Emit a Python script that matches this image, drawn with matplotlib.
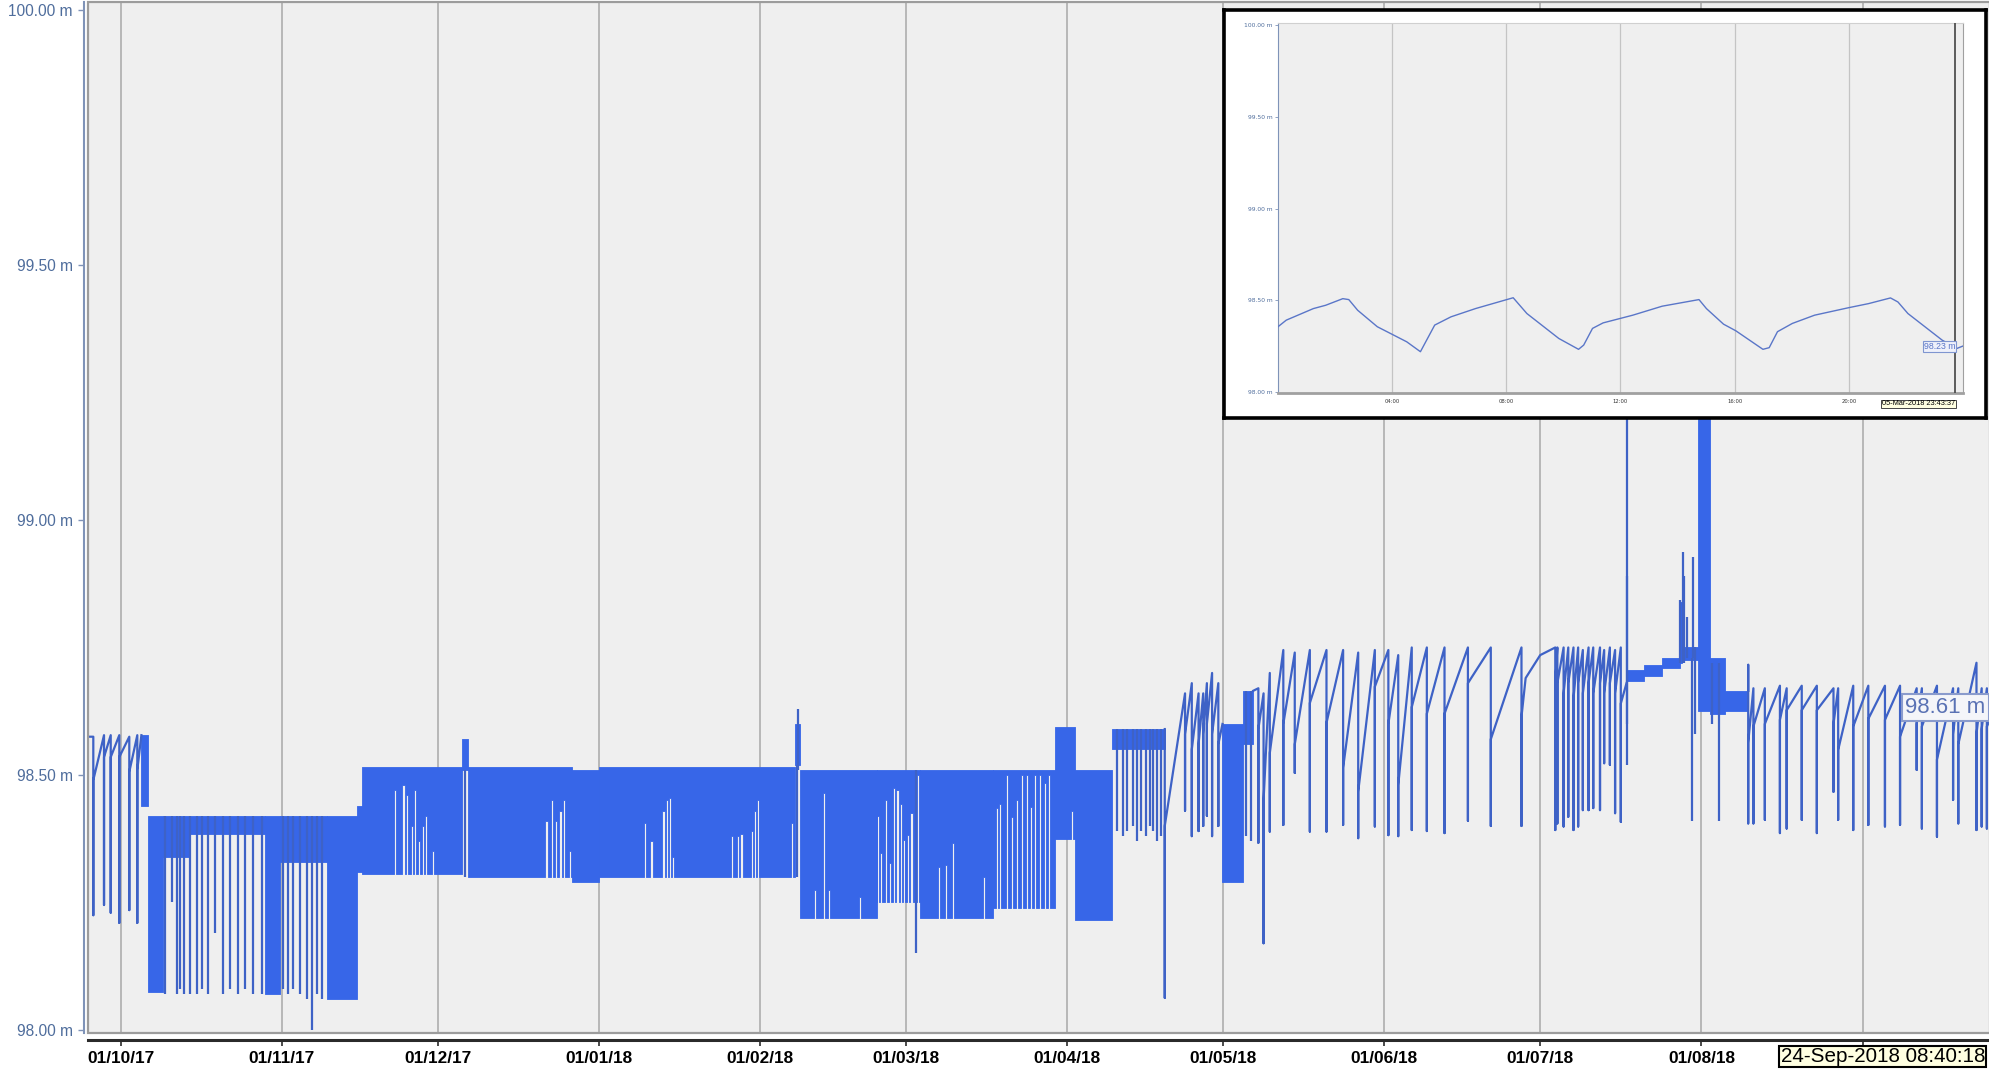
import numpy as np
import pandas as pd
import matplotlib
matplotlib.use("Agg")
import matplotlib.pyplot as plt
import matplotlib.dates as mdates
from matplotlib.patches import Rectangle
from matplotlib.ticker import FuncFormatter

# time axis of the main chart: days counted from 01/10/17
T0 = mdates.date2num(pd.Timestamp("2017-10-01"))
X_RANGE = (-6.27, 359.5)          # 24-Sep-2017 .. 24-Sep-2018
Y_TICKS = [98.0, 98.5, 99.0, 99.5, 100.0]
CURSOR_TIME = "24-Sep-2018 08:40:18"

# dense pumping bands (days, top level, bottom level)
BLOCK_START = [4.0, 5.35, 8.1, 13.4, 27.8, 30.7, 39.6, 45.5, 46.5, 65.6, 66.9, 86.8, 92.0,
               129.7, 130.6, 145.4, 153.7, 167.8, 179.6, 183.5, 190.7, 211.9, 215.8,
               289.7, 293.0, 296.5, 299.9, 300.3, 303.4, 305.7, 308.5]
BLOCK_END = [5.35, 8.1, 13.4, 27.8, 30.7, 39.6, 45.5, 46.5, 65.6, 66.9, 86.8, 92.0, 129.7,
             130.6, 145.4, 153.7, 167.8, 179.6, 183.5, 190.7, 200.8, 215.8, 217.8,
             293.0, 296.5, 299.9, 300.3, 303.4, 305.7, 308.5, 313.0]
BLOCK_TOP = [98.578, 98.42, 98.42, 98.42, 98.42, 98.42, 98.42, 98.44, 98.515, 98.57, 98.515,
             98.51, 98.515, 98.60, 98.51, 98.51, 98.51, 98.51, 98.595, 98.51, 98.59, 98.60,
             98.665, 98.705, 98.715, 98.73, 98.84, 98.75, 99.45, 98.73, 98.665]
BLOCK_BOTTOM = [98.44, 98.075, 98.34, 98.385, 98.07, 98.33, 98.06, 98.31, 98.305, 98.51, 98.30,
                98.29, 98.30, 98.52, 98.22, 98.25, 98.22, 98.24, 98.375, 98.216, 98.55, 98.29,
                98.56, 98.685, 98.695, 98.71, 98.72, 98.725, 98.625, 98.62, 98.625]

# short spells without pumping inside the bands (day, lowest level reached)
GAP_DAY = [52.8, 54.4, 55.1, 56.0, 56.6, 57.3, 58.1, 58.8, 60.1,
           81.9, 83.0, 83.8, 84.6, 85.3, 86.4,
           100.8, 102.1, 104.4, 105.0, 105.7, 106.3,
           117.5, 118.8, 119.4, 121.4, 122.0, 122.6, 129.1,
           133.5, 135.3, 136.3, 142.2, 145.7, 146.3, 147.2, 148.0, 148.7, 149.4, 150.1,
           150.7, 151.5, 152.1, 153.4, 157.4, 158.7, 160.0, 166.0,
           168.5, 169.2, 170.4, 171.4, 172.4, 173.3, 174.3, 175.0, 175.8, 176.8, 177.8,
           178.6, 182.9]
GAP_LEVEL = [98.47, 98.48, 98.46, 98.40, 98.47, 98.37, 98.40, 98.42, 98.35,
             98.41, 98.45, 98.41, 98.43, 98.45, 98.35,
             98.405, 98.37, 98.43, 98.45, 98.455, 98.34,
             98.38, 98.38, 98.385, 98.39, 98.43, 98.45, 98.405,
             98.275, 98.465, 98.275, 98.26, 98.42, 98.347, 98.451, 98.327, 98.474, 98.47,
             98.444, 98.373, 98.382, 98.425, 98.50, 98.32, 98.323, 98.366, 98.30,
             98.435, 98.444, 98.50, 98.418, 98.451, 98.50, 98.50, 98.438, 98.50, 98.50,
             98.484, 98.50, 98.43]

# single drawdowns / spikes (day, low, high)
DIP_DAY = [8.54, 9.83, 10.79, 11.42, 12.19, 13.35, 14.63, 15.6, 16.87, 18.15, 19.75, 21.04,
           22.65, 23.92, 25.52, 27.13, 31.29, 32.25, 33.21, 34.5, 35.79, 36.75, 37.71, 38.67,
           66.3, 130.0, 130.3, 152.9,
           191.7, 192.7, 193.6, 194.6, 195.4, 196.2, 197.2, 198.0, 198.6, 199.4, 200.0,
           216.5, 217.4, 289.6, 289.7,
           299.9, 300.4, 300.6, 301.2, 302.2, 302.4, 302.7, 306.0, 307.3]
DIP_LOW = [98.07, 98.25, 98.07, 98.08, 98.07, 98.07, 98.07, 98.08, 98.07, 98.19, 98.07, 98.08,
           98.07, 98.08, 98.07, 98.07, 98.08, 98.07, 98.08, 98.07, 98.06, 98.0, 98.07, 98.06,
           98.30, 98.30, 98.51, 98.151,
           98.39, 98.38, 98.39, 98.40, 98.37, 98.39, 98.38, 98.40, 98.39, 98.37, 98.38,
           98.38, 98.37, 98.52, 98.60,
           98.72, 98.72, 98.72, 98.73, 98.41, 98.73, 98.58, 98.60, 98.41]
DIP_HIGH = [98.42] * 24 + [98.51, 98.52, 98.63, 98.51] + [98.59] * 11 + \
           [98.665, 98.665, 99.45, 98.89,
            98.843, 98.937, 98.89, 98.81, 98.73, 98.927, 98.75, 98.72, 98.72]

# sawtooth periods: start point, cycles (day, level before drop, low, level after), end point
SAW_OCT_START = (-6.27, 98.575)
SAW_OCT = [(-5.25, 98.575, 98.225, 98.49), (-3.19, 98.578, 98.245, 98.535),
           (-1.90, 98.578, 98.23, 98.535), (-0.25, 98.578, 98.21, 98.535),
           (1.67, 98.575, 98.235, 98.506), (3.21, 98.578, 98.21, 98.51)]
SAW_OCT_END = (4.0, 98.578)

SAW_APR_START = (200.8, 98.59)
SAW_APR = [(200.8, 98.59, 98.063, 98.40), (204.7, 98.66, 98.43, 98.58),
           (206.0, 98.68, 98.38, 98.55), (207.3, 98.66, 98.39, 98.56),
           (208.2, 98.66, 98.40, 98.58), (208.9, 98.68, 98.42, 98.60),
           (209.9, 98.70, 98.38, 98.58), (211.1, 98.68, 98.40, 98.56)]
SAW_APR_END = (211.9, 98.60)

SAW_MAY_START = (217.8, 98.665)
SAW_MAY = [(218.8, 98.67, 98.367, 98.59), (219.8, 98.66, 98.17, 98.45),
           (221.0, 98.70, 98.389, 98.543), (223.6, 98.745, 98.402, 98.60),
           (225.8, 98.74, 98.504, 98.56), (228.7, 98.745, 98.389, 98.641),
           (231.9, 98.745, 98.389, 98.602), (235.1, 98.745, 98.402, 98.514),
           (238.0, 98.74, 98.376, 98.467), (241.2, 98.745, 98.399, 98.673),
           (243.8, 98.745, 98.382, 98.60), (245.7, 98.735, 98.38, 98.48),
           (248.3, 98.75, 98.392, 98.633), (251.2, 98.75, 98.39, 98.62),
           (254.6, 98.75, 98.386, 98.62), (259.1, 98.75, 98.41, 98.68),
           (263.5, 98.75, 98.40, 98.57), (269.4, 98.75, 98.40, 98.614),
           (270.2, 98.69, 98.69, 98.69), (273.0, 98.735, 98.735, 98.735),
           (275.9, 98.75, 98.392, 98.68), (276.3, 98.75, 98.405, 98.68),
           (277.5, 98.75, 98.399, 98.66), (278.4, 98.75, 98.418, 98.68),
           (279.4, 98.75, 98.392, 98.65), (280.3, 98.75, 98.399, 98.68),
           (281.2, 98.745, 98.431, 98.66), (282.3, 98.75, 98.431, 98.68),
           (283.2, 98.75, 98.435, 98.66), (284.5, 98.75, 98.431, 98.68),
           (285.3, 98.745, 98.523, 98.66), (286.4, 98.75, 98.52, 98.68),
           (287.4, 98.745, 98.425, 98.66), (288.5, 98.75, 98.408, 98.64)]
SAW_MAY_END = (289.6, 98.68)

SAW_AUG_START = (313.0, 98.665)
SAW_AUG = [(313.0, 98.716, 98.405, 98.563), (314.0, 98.67, 98.405, 98.595),
           (316.2, 98.67, 98.412, 98.60), (319.1, 98.675, 98.386, 98.608),
           (320.4, 98.67, 98.395, 98.627), (323.3, 98.675, 98.412, 98.627),
           (326.2, 98.675, 98.386, 98.627), (329.4, 98.67, 98.467, 98.60),
           (330.3, 98.67, 98.412, 98.549), (333.2, 98.675, 98.392, 98.595),
           (336.1, 98.675, 98.402, 98.61), (339.3, 98.675, 98.399, 98.608),
           (342.2, 98.675, 98.402, 98.575), (345.4, 98.67, 98.51, 98.60),
           (346.4, 98.67, 98.395, 98.595), (349.3, 98.675, 98.379, 98.53),
           (352.4, 98.67, 98.451, 98.58), (353.4, 98.67, 98.405, 98.56),
           (356.9, 98.72, 98.392, 98.58), (357.9, 98.67, 98.399, 98.59),
           (358.9, 98.67, 98.395, 98.595)]
SAW_AUG_END = (359.6, 98.61)

LAST_VALUE = 98.61

# inset: 05-Mar-2018, hours of the day
INSET_HOURS = [0.0, 0.29, 1.24, 1.67, 2.27, 2.48, 2.79, 3.48, 4.51, 4.99, 5.49, 6.06, 6.92,
               8.24, 8.72, 9.84, 10.53, 10.71, 11.02, 11.39, 12.43, 13.46, 14.75, 15.01,
               15.61, 16.04, 16.99, 17.21, 17.5, 18.02, 18.8, 20.0, 20.69, 21.46, 21.72,
               22.07, 23.27, 23.79, 24.0]
INSET_LEVEL = [98.356, 98.392, 98.455, 98.473, 98.509, 98.504, 98.446, 98.356, 98.274, 98.22,
               98.365, 98.41, 98.455, 98.514, 98.428, 98.292, 98.233, 98.256, 98.347, 98.377,
               98.419, 98.468, 98.504, 98.455, 98.37, 98.334, 98.233, 98.242, 98.329, 98.374,
               98.419, 98.46, 98.482, 98.513, 98.491, 98.428, 98.283, 98.238, 98.251]
INSET_CURSOR = 23.73
INSET_VALUE = 98.23
INSET_TIME = "05-Mar-2018 23:43:37"
INSET_TICKS = [4, 8, 12, 16, 20]

GAP_W = 0.4
FILL = "#3766e8"
LINE = "#3e62c6"
BG = "#efefef"
LABEL_BLUE = "#4f6d9c"
FONT = ["Liberation Sans", "DejaVu Sans"]


def saw_path(start, cycles, end):
    xs, ys = [start[0]], [start[1]]
    for d, top, low, reb in cycles:
        xs += [d, d, d]
        ys += [top, low, reb]
    xs.append(end[0])
    ys.append(end[1])
    return T0 + np.array(xs), np.array(ys)


def block_steps(start, end, bottom):
    xs, bs = [start], [bottom]
    for g, lvl in zip(GAP_DAY, GAP_LEVEL):
        if start < g < end:
            xs += [g - GAP_W / 2, g + GAP_W / 2]
            bs += [lvl, bottom]
    xs.append(end)
    bs.append(bottom)
    return T0 + np.array(xs), np.array(bs)


def month_label(x, pos):
    # the cursor time box sits over the last month label
    if x >= mdates.date2num(pd.Timestamp("2018-09-01")):
        return ""
    return mdates.num2date(x).strftime("%d/%m/%y")


fig = plt.figure(figsize=(19.9, 10.7), dpi=100)
W, H = 1990.0, 1070.0

ax = fig.add_axes([88 / W, 1 - 1033 / H, (1990 - 88) / W, (1033 - 2) / H])
ax.set_facecolor(BG)
ax.set_xlim(T0 + X_RANGE[0], T0 + X_RANGE[1])
ax.set_ylim(97.994, 100.0157)

for s, e, top, bot in zip(BLOCK_START, BLOCK_END, BLOCK_TOP, BLOCK_BOTTOM):
    xs, bs = block_steps(s, e, bot)
    ax.fill_between(xs, top, bs, step="post", color=FILL, lw=0.6, edgecolor=FILL, zorder=3)

for start, cyc, end in [(SAW_OCT_START, SAW_OCT, SAW_OCT_END),
                        (SAW_APR_START, SAW_APR, SAW_APR_END),
                        (SAW_MAY_START, SAW_MAY, SAW_MAY_END),
                        (SAW_AUG_START, SAW_AUG, SAW_AUG_END)]:
    xs, ys = saw_path(start, cyc, end)
    ax.plot(xs, ys, color=LINE, lw=1.6, zorder=4)

ax.vlines(T0 + np.array(DIP_DAY), DIP_LOW, DIP_HIGH, color=LINE, lw=1.6, zorder=4)

ax.xaxis.set_major_locator(mdates.MonthLocator())
ax.xaxis.set_major_formatter(FuncFormatter(month_label))
ax.grid(axis="x", color="#b7b7b7", lw=1.4, zorder=1)
ax.set_yticks(Y_TICKS)
ax.set_yticklabels([f"{v:.2f} m" for v in Y_TICKS])

for side in ["top", "right"]:
    ax.spines[side].set_visible(False)
ax.spines["left"].set_position(("outward", 3))
ax.spines["left"].set_color("#7f93b8")
ax.spines["left"].set_linewidth(1.5)
ax.spines["bottom"].set_position(("outward", 5))
ax.spines["bottom"].set_color("#2a2a2a")
ax.spines["bottom"].set_linewidth(2.2)
ax.add_patch(Rectangle((0, 0), 1, 1, transform=ax.transAxes, fill=False,
                       edgecolor="#9c9c9c", lw=1.6, clip_on=False, zorder=6))

ax.tick_params(axis="y", length=4, width=1, color="#7f93b8", pad=4, labelsize=11.2,
               labelcolor=LABEL_BLUE)
ax.tick_params(axis="x", length=4, width=1.2, color="#2a2a2a", pad=4, labelsize=12.4)
for lab in ax.get_yticklabels():
    lab.set_family(FONT)
for lab in ax.get_xticklabels():
    lab.set_family(FONT)
    lab.set_fontweight("bold")

ax.text(0.9975, LAST_VALUE + 0.022, f"{LAST_VALUE:.2f} m",
        transform=ax.get_yaxis_transform(), ha="right", va="center",
        fontsize=16, color="#5a72b4", family=FONT, zorder=8,
        bbox=dict(boxstyle="square,pad=0.15", facecolor="#f4f5f9", edgecolor="#8a9bcc", lw=1.5))

fig.text(1985 / W, 1 - 1056.5 / H, CURSOR_TIME, ha="right", va="center",
         fontsize=14.9, color="black", family=FONT, zorder=20,
         bbox=dict(boxstyle="square,pad=0.06", facecolor="#ffffe1", edgecolor="black", lw=1.5))

# inset with one day of readings
box = fig.add_axes([1224 / W, 1 - 418 / H, (1986 - 1224) / W, (418 - 10) / H], zorder=10)
box.set_facecolor("white")
box.set_xticks([])
box.set_yticks([])
for sp in box.spines.values():
    sp.set_linewidth(2.6)
    sp.set_color("black")

ins = fig.add_axes([1278 / W, 1 - 393 / H, (1963 - 1278) / W, (393 - 23) / H], zorder=11)
ins.set_facecolor(BG)
ins.set_xlim(0, 24)
ins.set_ylim(97.995, 100.011)
ins.plot(INSET_HOURS, INSET_LEVEL, color="#5a76c8", lw=1.0, zorder=3)
ins.axvline(INSET_CURSOR, color="#505050", lw=1.3, zorder=4)
ins.set_xticks(INSET_TICKS)
ins.set_xticklabels([f"{h:02d}:00" for h in INSET_TICKS])
ins.set_yticks(Y_TICKS)
ins.set_yticklabels([f"{v:.2f} m" for v in Y_TICKS])
ins.grid(axis="x", color="#c4c4c4", lw=0.9, zorder=1)
ins.tick_params(axis="y", length=2, width=0.6, color="#7f93b8", pad=2, labelsize=4.3,
                labelcolor=LABEL_BLUE)
ins.tick_params(axis="x", length=0, pad=4, labelsize=3.8, labelcolor="#333333")
ins.spines["top"].set_color("#d0d0d0")
ins.spines["right"].set_color("#a0a0a0")
ins.spines["left"].set_color("#7f93b8")
ins.spines["bottom"].set_color("#a0a0a0")
ins.spines["bottom"].set_linewidth(2)
ins.text(INSET_CURSOR, INSET_VALUE + 0.02, f"{INSET_VALUE:.2f} m", ha="right", va="center",
         fontsize=6.3, color="#5a76c8", family=FONT, zorder=6,
         bbox=dict(boxstyle="square,pad=0.12", facecolor="#eef0fa", edgecolor="#7f95d0", lw=0.8))
ins.text(INSET_CURSOR, -0.02, INSET_TIME, transform=ins.get_xaxis_transform(),
         ha="right", va="top", fontsize=5.3, color="black", family=FONT, zorder=6,
         bbox=dict(boxstyle="square,pad=0.1", facecolor="#ffffe1", edgecolor="#444444", lw=0.7))

fig.savefig("out.png", dpi=100, facecolor="white")
